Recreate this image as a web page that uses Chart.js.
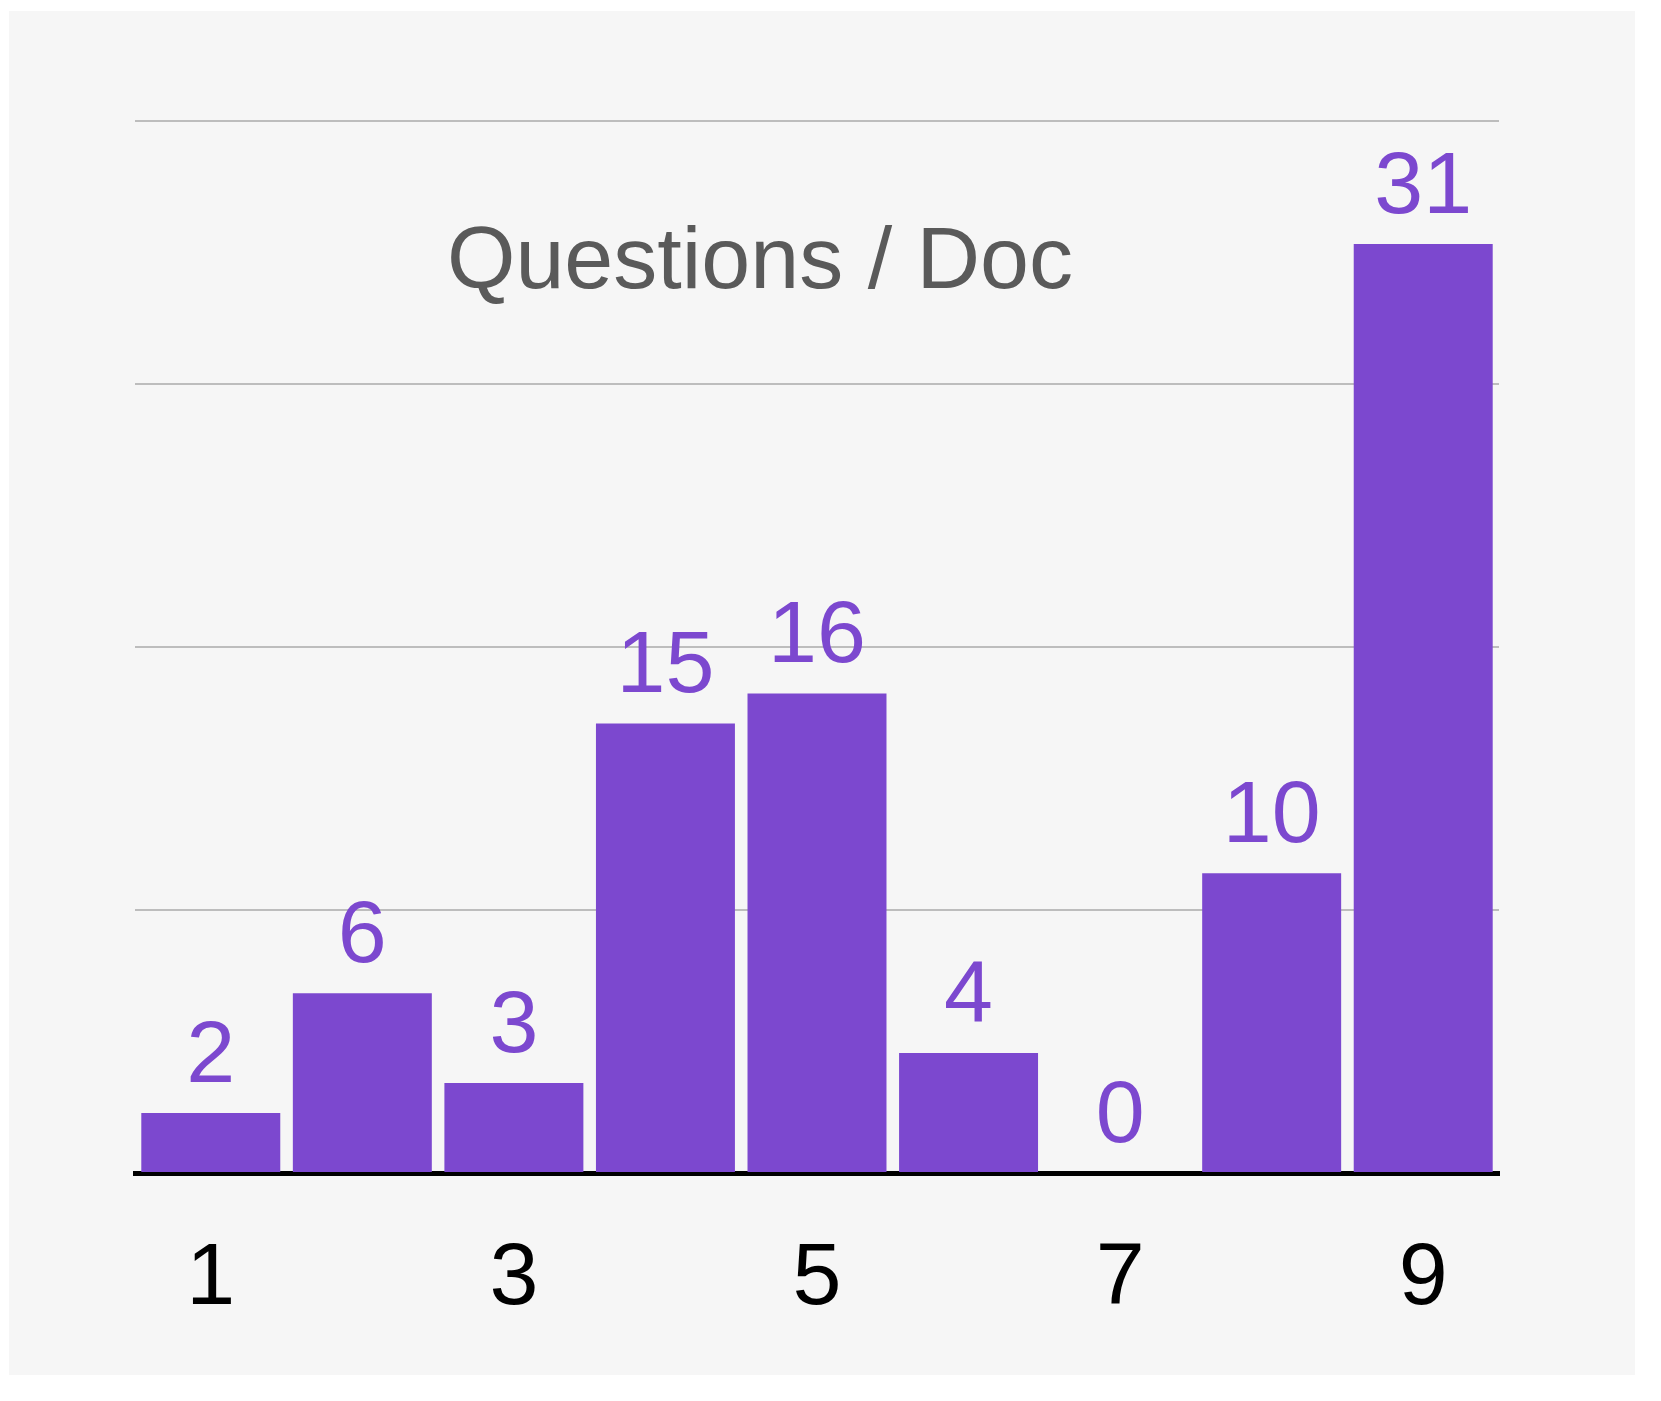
<!DOCTYPE html>
<html>
<head>
<meta charset="utf-8">
<script src="https://cdn.jsdelivr.net/npm/chart.js@4"></script>
<style>
  body { margin: 0; background: #fff; }
  #card { position: absolute; left: 9px; top: 11px; width: 1626px; height: 1364px; background: #f6f6f6; }
  #wrap { position: absolute; left: 0; top: 0; width: 1661px; height: 1401px; }
</style>
</head>
<body>
<div id="card"></div>
<div id="wrap"><canvas id="qChart"></canvas></div>
<script>
// questions per doc
const categories = ['1', '2', '3', '4', '5', '6', '7', '8', '9'];
const questionCounts = [2, 6, 3, 15, 16, 4, 0, 10, 31];
const shownTicks = ['1', '3', '5', '7', '9'];
const chartTitle = 'Questions / Doc';

const purple = '#7c48cf';
const fontFamily = '"Liberation Sans", Arial, Helvetica, sans-serif';

// value labels above each bar
const valueLabels = {
  id: 'valueLabels',
  afterDatasetsDraw(chart) {
    const ctx = chart.ctx;
    const meta = chart.getDatasetMeta(0);
    ctx.save();
    ctx.fillStyle = purple;
    ctx.font = '88px ' + fontFamily;
    ctx.textAlign = 'center';
    ctx.textBaseline = 'alphabetic';
    meta.data.forEach((bar, i) => {
      ctx.fillText(String(questionCounts[i]), bar.x, bar.y - 31);
    });
    ctx.restore();
  }
};

// title sits inside the plot area
const innerTitle = {
  id: 'innerTitle',
  afterDraw(chart) {
    const ctx = chart.ctx;
    const area = chart.chartArea;
    ctx.save();
    ctx.fillStyle = '#5a5a5a';
    ctx.font = '88px ' + fontFamily;
    ctx.textAlign = 'center';
    ctx.textBaseline = 'alphabetic';
    ctx.fillText(chartTitle, area.left + 625, area.top + 167);
    ctx.restore();
  }
};

new Chart(document.getElementById('qChart'), {
  type: 'bar',
  data: {
    labels: categories,
    datasets: [{
      data: questionCounts,
      backgroundColor: purple,
      borderWidth: 0,
      categoryPercentage: 1,
      barPercentage: 0.917
    }]
  },
  options: {
    responsive: true,
    maintainAspectRatio: false,
    animation: false,
    layout: { padding: { left: 135, right: 162, top: 121, bottom: 0 } },
    plugins: {
      legend: { display: false },
      title: { display: false },
      tooltip: { enabled: false }
    },
    scales: {
      x: {
        grid: { display: false, drawTicks: false },
        border: { display: true, color: '#000', width: 5 },
        ticks: {
          color: '#000',
          font: { size: 88, family: fontFamily },
          padding: 54,
          autoSkip: false,
          maxRotation: 0,
          callback(value) {
            const lbl = categories[value];
            return shownTicks.includes(lbl) ? lbl : '';
          }
        },
        afterFit(scale) { scale.height = 228; }
      },
      y: {
        min: 0,
        max: 35.1,
        ticks: { display: false, stepSize: 8.775 },
        grid: { color: '#bdbdbd', lineWidth: 2, drawTicks: false },
        border: { display: false },
        afterFit(scale) { scale.width = 0; }
      }
    }
  },
  plugins: [valueLabels, innerTitle]
});
</script>
</body>
</html>
